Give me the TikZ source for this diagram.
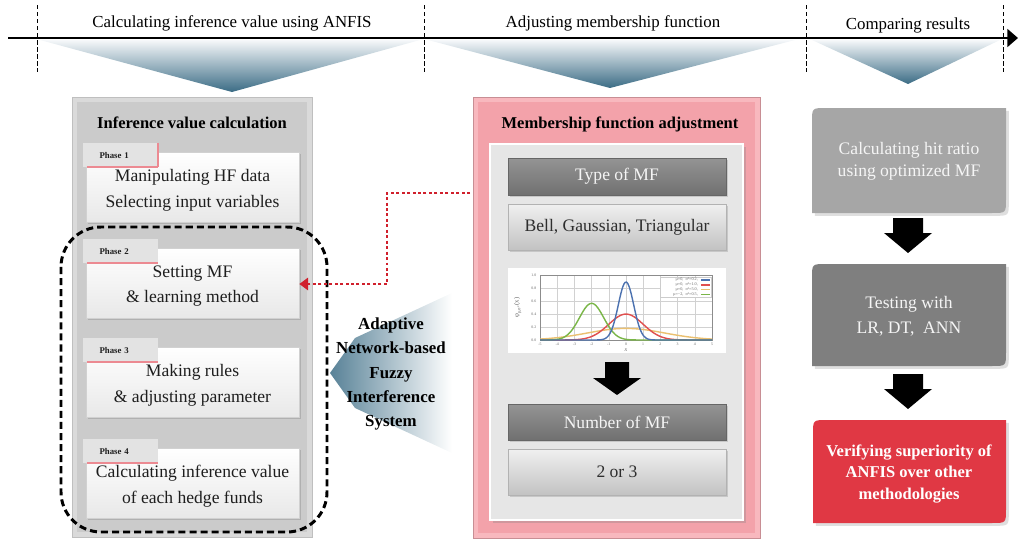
\documentclass[tikz,border=0pt]{standalone}
\usepackage{fontspec}
\setmainfont{Liberation Serif}
\usetikzlibrary{arrows.meta,shadows,calc}

\definecolor{funnelTop}{HTML}{F6F8FA}
\definecolor{funnelDeep}{HTML}{3B6C85}
\definecolor{panelRim}{HTML}{DADADA}
\definecolor{panelFill}{HTML}{CBCBCB}
\definecolor{pinkRim}{HTML}{F8B8BE}
\definecolor{pinkFill}{HTML}{F3A2AA}
\definecolor{innerGray}{HTML}{E6E6E6}
\definecolor{tabGray}{HTML}{E3E3E3}
\definecolor{tabPink}{HTML}{EC8A92}
\definecolor{resLight}{HTML}{A6A6A6}
\definecolor{resDark}{HTML}{7F7F7F}
\definecolor{resRed}{HTML}{E03844}
\definecolor{linkRed}{HTML}{D0202C}
\definecolor{curveBlue}{HTML}{4C72B0}
\definecolor{curveRed}{HTML}{E0504F}
\definecolor{curveGold}{HTML}{EBC070}
\definecolor{curveGreen}{HTML}{7AB648}
\definecolor{textDark}{HTML}{1E1E1E}

\newcommand\setfs[2]{\fontsize{#1}{#2}\selectfont}
% box with rounded top-left and bottom-right corners: x1,y1,x2,y2,colour
\newcommand\rdbox[5]{%
  \fill[#5, drop shadow={shadow xshift=1.6pt, shadow yshift=-1.6pt, opacity=0.25}]
    (#1,#4) -- (#1,#2+14) .. controls (#1,#2) .. (#1+14,#2) -- (#3,#2)
    -- (#3,#4-14) .. controls (#3,#4) .. (#3-14,#4) -- cycle;}

\begin{document}
\begin{tikzpicture}[x=0.02cm, y=-0.02cm,
  header/.style={font=\setfs{9.6}{11}, text=black, inner sep=0},
  paneltitle/.style={font=\bfseries\setfs{9.4}{11}, text=black, inner sep=0},
  phasebox/.style={draw=black!18, top color=white, bottom color=black!9,
    minimum width=4.26cm, minimum height=1.4cm, inner sep=0,
    drop shadow={shadow xshift=1.3pt, shadow yshift=-1.3pt, opacity=0.35}},
  phasetext/.style={align=center, inner sep=0, font=\setfs{10}{14.7}, text=textDark},
  phasetab/.style={fill=tabGray, text width=1.5cm, minimum height=0.48cm,
    inner sep=0, align=left, font=\bfseries\setfs{5}{6}, text=textDark},
  darkbar/.style={top color=black!42, bottom color=black!56, draw=black!60,
    minimum width=4.36cm, inner sep=0, font=\setfs{10}{12}, text=black!4,
    drop shadow={shadow xshift=1pt, shadow yshift=-1pt, opacity=0.3}},
  lightbar/.style={top color=black!6, bottom color=black!24, draw=black!30,
    minimum width=4.36cm, inner sep=0, font=\setfs{10}{12}, text=black!82,
    drop shadow={shadow xshift=1pt, shadow yshift=-1pt, opacity=0.3}},
  restext/.style={align=center, inner sep=0, font=\setfs{10}{12.5}, text=black!4},
  vsep/.style={black, line width=0.5pt, dash pattern=on 2.5pt off 1.5pt},
  gridline/.style={black!18, line width=0.25pt},
  curve/.style={line width=0.8pt},
  ticklab/.style={inner sep=0, font=\setfs{2.2}{2.6}, text=black!60},
  narrowdown/.pic={\fill[black] (-12,0) -- (12,0) -- (12,16) -- (24,16) -- (0,33)
    -- (-24,16) -- (-12,16) -- cycle;},
  widedown/.pic={\fill[black] (-15,0) -- (15,0) -- (15,15) -- (24,15) -- (0,35)
    -- (-24,15) -- (-15,15) -- cycle;}
]
\useasboundingbox (0,0) rectangle (1019,541);

% ---------- funnels under the time line ----------
\shade[top color=funnelTop, bottom color=funnelDeep] (40,40) -- (420,40) -- (232,92) -- cycle;
\shade[top color=funnelTop, bottom color=funnelDeep] (428,40) -- (795,40) -- (610,88) -- cycle;
\shade[top color=funnelTop, bottom color=funnelDeep] (812,40) -- (1000,40) -- (908,84) -- cycle;

% ---------- time line ----------
\coordinate (tlstart) at (8,38);
\coordinate (tlend) at (1018,38);
\draw[line width=1.5pt, -{Triangle[length=6pt,width=10pt]}] (tlstart) -- (tlend);
\foreach \xx in {37,424,806,1003}
  \draw[vsep] (\xx,5) -- (\xx,72);

\node[header] (h1) at (232,23) {Calculating inference value using ANFIS};
\node[header] (h2) at (613,23) {Adjusting membership function};
\node[header] (h3) at (908,25) {Comparing results};

% ---------- left panel ----------
\node[fill=panelRim, draw=black!25, minimum width=4.8cm, minimum height=8.8cm, inner sep=0]
  (infpanel) at (192,317) {};
\fill[panelFill] (77,102) rectangle (307,532);
\node[paneltitle] (inftitle) at (192,123) {Inference value calculation};

\node[phasebox] (phase1) at (192.5,187) {};
\node[phasebox] (phase2) at (192.5,283) {};
\node[phasebox] (phase3) at (192.5,382) {};
\node[phasebox] (phase4) at (192.5,483) {};
\node[phasetext] (ptext1) at ($(phase1)+(0,3)$) {Manipulating HF data\\Selecting input variables};
\node[phasetext] (ptext2) at ($(phase2)+(0,3)$) {Setting MF\\\& learning method};
\node[phasetext] (ptext3) at ($(phase3)+(0,3)$) {Making rules\\\& adjusting parameter};
\node[phasetext] (ptext4) at ($(phase4)+(0,3)$) {Calculating inference value\\of each hedge funds};

\foreach \k in {1,2,3,4}{
  \node[phasetab, anchor=north west] (tab\k) at ($(phase\k.north west)+(-3,-9)$)
    {\hspace{0.33cm}Phase \k};
  \draw[tabPink, line width=1.1pt] ($(tab\k.south west)+(4,0)$) -- (tab\k.south east);
}
\draw[tabPink, line width=1.1pt] (tab1.north east) -- (tab1.south east);

% dashed grouping of phases 2-4
\draw[black, line width=1.7pt, dash pattern=on 4pt off 2.3pt, rounded corners=0.8cm]
  (61,227) rectangle (327,532);

% ---------- ANFIS arrow ----------
\shade[left color=funnelDeep!85, right color=white]
  (330,373) -- (355,338) -- (452,293) -- (452,453) -- (355,408) -- cycle;
\node[align=center, inner sep=0, font=\bfseries\setfs{9.6}{13.9}, text=black] (anfis)
  at (391,374) {Adaptive\\Network-based\\Fuzzy\\Interference\\System};

% ---------- middle panel ----------
\node[fill=pinkRim, draw=pinkFill!80!black!90, minimum width=5.74cm, minimum height=8.82cm, inner sep=0]
  (mfpanel) at (616.5,317.5) {};
\fill[pinkFill] (478,102) rectangle (755,533);
\node[paneltitle] (mftitle) at (620,124) {Membership function adjustment};
\node[fill=innerGray, draw=white, line width=1pt, minimum width=5.06cm, minimum height=7.52cm, inner sep=0,
  drop shadow={shadow xshift=1.5pt, shadow yshift=-1.5pt, opacity=0.3}] (mfinner) at (616.5,332) {};

\node[darkbar, minimum height=0.74cm] (mftype) at (617,176.5) {Type of MF};
\node[lightbar, minimum height=0.92cm] (mfkinds) at (617,227) {Bell, Gaussian, Triangular};

% membership function plot
\node[fill=white, minimum width=4.36cm, minimum height=1.7cm, inner sep=0] (mfplot) at (617,310.5) {};
\begin{scope}[shift={(626,340)}, x={(0.344cm,0)}, y={(0,1.3cm)}]
  \foreach \i in {-5,...,5} \draw[gridline] (\i,0) -- (\i,1);
  \foreach \j in {0.2,0.4,0.6,0.8} \draw[gridline] (-5,\j) -- (5,\j);
  \draw[black!45, line width=0.3pt] (-5,0) rectangle (5,1);
  \foreach \j/\l [count=\n] in {0/0.0,0.2/0.2,0.4/0.4,0.6/0.6,0.8/0.8,1/1.0}
    \node[ticklab, anchor=east] (ytick\n) at (-5.2,\j) {\l};
  \foreach \i [count=\n] in {-5,...,5}
    \node[ticklab, anchor=north] (xtick\n) at (\i,-0.04) {\i};
  \draw[curve, curveGold] plot[domain=-5:5, samples=60, smooth]
    (\x,{0.1784*exp(max(-9,-\x*\x/10))});
  \draw[curve, curveRed] plot[domain=-5:5, samples=80, smooth]
    (\x,{0.3989*exp(max(-9,-\x*\x/2))});
  \draw[curve, curveGreen] plot[domain=-5:5, samples=100, smooth]
    (\x,{0.5642*exp(max(-9,-(\x+2)*(\x+2)))});
  \draw[curve, curveBlue] plot[domain=-5:5, samples=140, smooth]
    (\x,{0.8921*exp(max(-9,-\x*\x/0.4))});
  \node[ticklab, rotate=90, font=\setfs{3.8}{4.4}] (ylab) at (-6.3,0.5)
    {φ\textsubscript{μ,σ²}(x)};
  \node[ticklab, font=\itshape\setfs{3.4}{4}] (xlab) at (0,-0.16) {x};
  % legend
  \draw[black!20, line width=0.25pt, fill=white] (2.0,0.66) rectangle (4.98,0.97);
  \foreach \yy/\col/\txt [count=\n] in {0.923/curveBlue/{μ=0,\enspace σ²=0.2,},
      0.846/curveRed/{μ=0,\enspace σ²=1.0,},
      0.777/curveGold/{μ=0,\enspace σ²=5.0,},
      0.700/curveGreen/{μ=−2,\enspace σ²=0.5,}}{
    \draw[\col, line width=0.7pt] (4.35,\yy) -- (4.9,\yy);
    \node[ticklab, anchor=east, font=\setfs{2.4}{2.8}] (leg\n) at (4.2,\yy) {\txt};
  }
\end{scope}

\pic at (617,362) {narrowdown};

\node[darkbar, minimum height=0.72cm] (mfnum) at (617,422) {Number of MF};
\node[lightbar, minimum height=0.92cm] (mfcount) at (617,472) {2 or 3};

% red dotted link from the MF panel back to phase 2
\coordinate (linkstart) at (470,193);
\coordinate (linkturn) at (387,284);
\draw[linkRed, line width=1.6pt, dash pattern=on 1.7pt off 1.4pt,
  -{Triangle[length=5pt,width=7pt]}]
  (linkstart) -| (linkturn) -- (phase2.east |- linkturn);

% ---------- right column ----------
\rdbox{812}{108}{1006}{213}{resLight}
\node[restext] (res1) at (909,161) {Calculating hit ratio\\using optimized MF};
\pic at (908,218) {widedown};
\rdbox{812}{264}{1006}{366}{resDark}
\node[restext, font=\setfs{10}{14}] (res2) at (909,316) {Testing with\\LR, DT,\enspace ANN};
\pic at (908,374) {widedown};
\rdbox{813}{420}{1006}{523}{resRed}
\node[restext, font=\bfseries\setfs{9.4}{12}, text=white] (res3) at (909,474)
  {Verifying superiority of\\ANFIS over other\\methodologies};
\end{tikzpicture}
\end{document}
